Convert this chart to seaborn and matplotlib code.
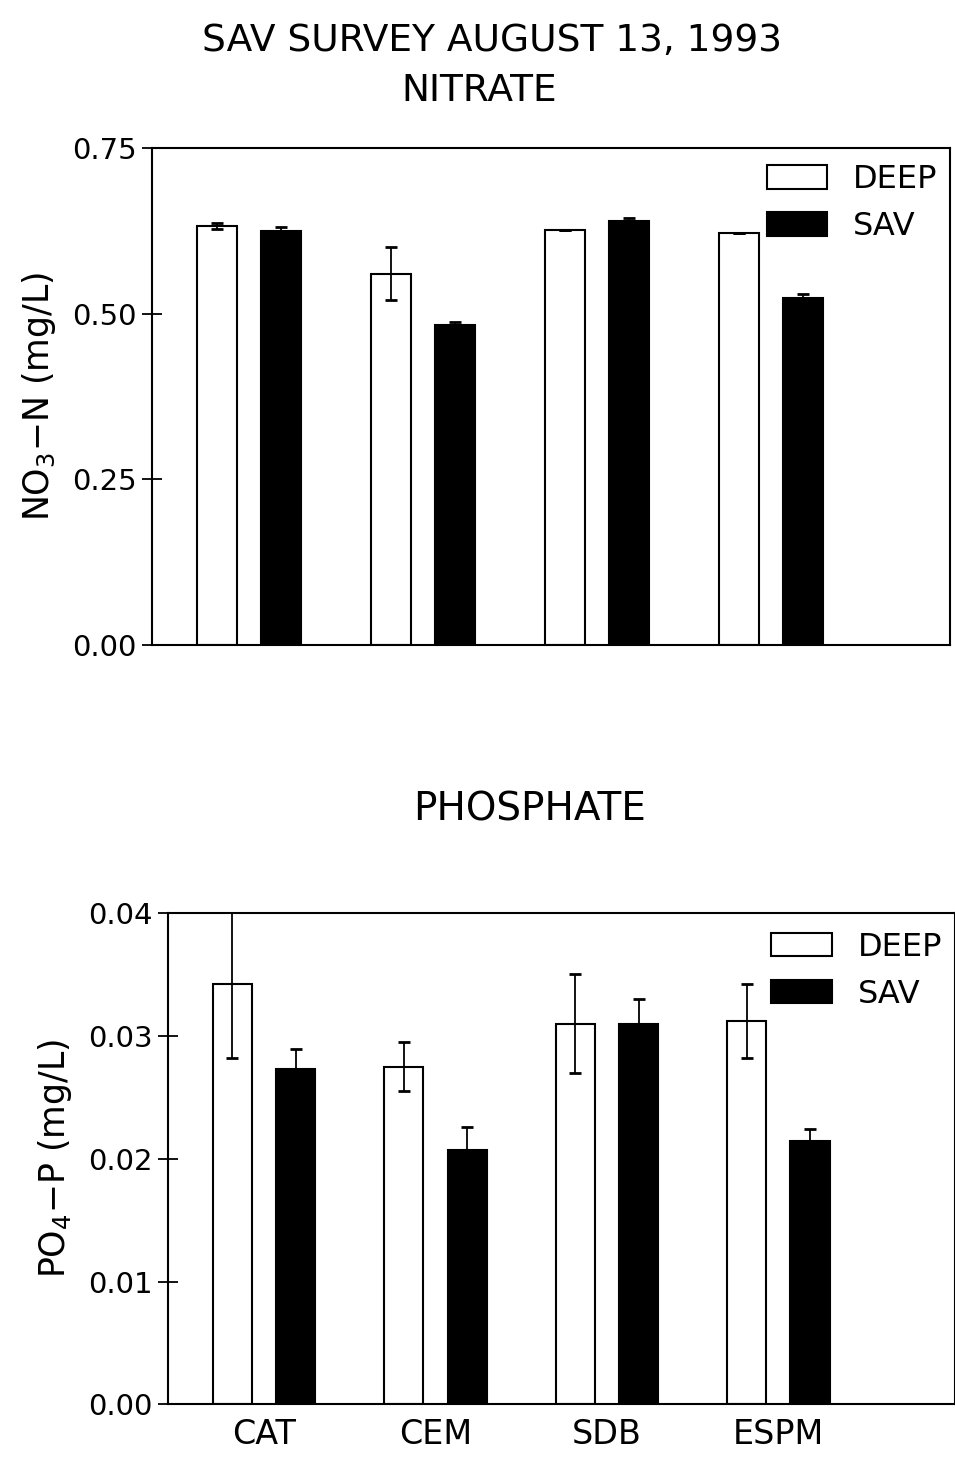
import matplotlib
matplotlib.use('Agg')

import pandas as pd
import matplotlib.pyplot as plt
import seaborn as sns

sites = ['CAT', 'CEM', 'SDB', 'ESPM']
groups = ['DEEP', 'SAV']

# nitrate, mg/L
no3_deep = [0.632, 0.560, 0.626, 0.622]
no3_deep_err = [0.005, 0.040, 0.0, 0.0]
no3_sav = [0.625, 0.483, 0.640, 0.524]
no3_sav_err = [0.006, 0.005, 0.004, 0.005]

# phosphate, mg/L
po4_deep = [0.0342, 0.0275, 0.0310, 0.0312]
po4_deep_err = [0.0060, 0.0020, 0.0040, 0.0030]
po4_sav = [0.0273, 0.0207, 0.0310, 0.0214]
po4_sav_err = [0.0016, 0.0019, 0.0020, 0.0010]

no3_ticks = [0.00, 0.25, 0.50, 0.75]
po4_ticks = [0.00, 0.01, 0.02, 0.03, 0.04]


def make_df(deep, deep_err, sav, sav_err):
	rows = []
	for i, s in enumerate(sites):
		rows.append((s, 'DEEP', deep[i], deep_err[i]))
		rows.append((s, 'SAV', sav[i], sav_err[i]))
	return pd.DataFrame(rows, columns=['site', 'type', 'value', 'err'])


def draw(ax, df, ticks, ylabel, xlabels, leg_anchor):
	sns.barplot(data=df, x='site', y='value', hue='type', hue_order=groups,
		order=sites, palette={'DEEP': 'white', 'SAV': 'black'},
		edgecolor='black', linewidth=1.5, width=0.74, gap=0.38,
		errorbar=None, ax=ax, zorder=2)
	# error bars from the bar centres
	for bars, g in zip(ax.containers, groups):
		sub = df[df['type'] == g].set_index('site').loc[sites]
		xs = [b.get_x() + b.get_width() / 2 for b in bars]
		ax.errorbar(xs, sub['value'], yerr=sub['err'], fmt='none',
			ecolor='black', elinewidth=1.3, capsize=4, capthick=2, zorder=3)
	ax.set_xlim(-0.56, 4.03)
	ax.set_ylim(ticks[0], ticks[-1])
	ax.set_yticks(ticks)
	ax.set_yticklabels(['%.2f' % t for t in ticks], fontsize=21)
	ax.tick_params(axis='y', direction='inout', length=14, width=1.3, pad=4,
		colors='black')
	ax.tick_params(axis='x', length=0, labelsize=24, pad=10, colors='black')
	if xlabels:
		ax.set_xticklabels(sites)
	else:
		ax.set_xticklabels([])
	ax.set_xlabel('')
	ax.set_ylabel(ylabel, fontsize=25, labelpad=10, color='black')
	for sp in ax.spines.values():
		sp.set_linewidth(1.5)
		sp.set_color('black')
	h, l = ax.get_legend_handles_labels()
	ax.legend(h, l, loc='upper right', frameon=False, fontsize=23,
		handlelength=1.9, handleheight=0.75, handletextpad=0.8,
		labelspacing=0.5, bbox_to_anchor=leg_anchor)


if __name__ == "__main__":
	sns.set_style('ticks')
	plt.rcParams['font.family'] = ['DejaVu Sans']
	plt.rcParams['text.color'] = 'black'

	fig = plt.figure(figsize=(9.55, 14.63), dpi=100)
	ax1 = fig.add_axes([0.159, 0.559, 0.836, 0.340])
	ax2 = fig.add_axes([0.176, 0.040, 0.824, 0.336])

	draw(ax1, make_df(no3_deep, no3_deep_err, no3_sav, no3_sav_err),
		no3_ticks, r'NO$_3$$-$N (mg/L)', False, (1.02, 1.025))
	draw(ax2, make_df(po4_deep, po4_deep_err, po4_sav, po4_sav_err),
		po4_ticks, r'PO$_4$$-$P (mg/L)', True, (1.02, 1.02))

	fig.text(0.515, 0.972, 'SAV SURVEY AUGUST 13, 1993', ha='center', va='center', fontsize=27)
	fig.text(0.502, 0.938, 'NITRATE', ha='center', va='center', fontsize=27)
	fig.text(0.555, 0.447, 'PHOSPHATE', ha='center', va='center', fontsize=28)

	fig.savefig('out.png', dpi=100)
